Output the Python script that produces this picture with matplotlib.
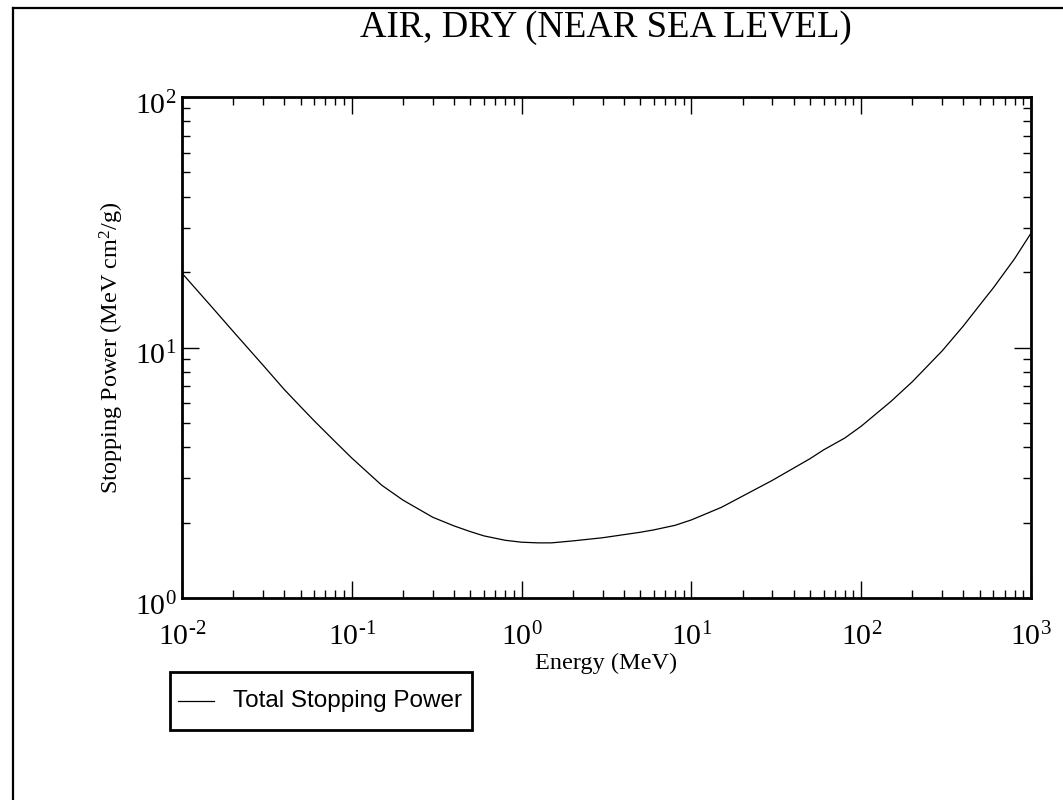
#!/usr/bin/env python3
"""
Total stopping power of electrons in dry air, log-log plot.
"""
import matplotlib
matplotlib.use("Agg")
import matplotlib.pyplot as plt
from matplotlib.lines import Line2D
from matplotlib.patches import Rectangle
from matplotlib.transforms import ScaledTranslation
from matplotlib.ticker import LogLocator, NullFormatter, FuncFormatter
import math

# Data
energy_mev = [0.01, 0.015, 0.02, 0.03, 0.04, 0.05, 0.06, 0.08, 0.1, 0.15,
              0.2, 0.3, 0.4, 0.5, 0.6, 0.8, 1.0, 1.25, 1.5, 2.0,
              3.0, 4.0, 5.0, 6.0, 8.0, 10.0, 15.0, 20.0, 30.0, 40.0,
              50.0, 60.0, 80.0, 100.0, 150.0, 200.0, 300.0, 400.0, 500.0, 600.0,
              800.0, 1000.0]
stopping_power = [19.8, 14.5, 11.6, 8.5, 6.8, 5.8, 5.1, 4.2, 3.62, 2.82,
                  2.46, 2.10, 1.94, 1.84, 1.77, 1.70, 1.67, 1.66, 1.66, 1.69,
                  1.74, 1.79, 1.83, 1.87, 1.95, 2.05, 2.30, 2.55, 2.95, 3.30,
                  3.60, 3.90, 4.35, 4.85, 6.1, 7.3, 9.7, 12.2, 14.8, 17.3,
                  22.6, 28.6]

series_label = "Total Stopping Power"
title = "AIR, DRY (NEAR SEA LEVEL)"
x_label = "Energy (MeV)"
y_label = r"Stopping Power (MeV cm$^2$/g)"

W, H = 1063, 800

plt.rcParams["font.family"] = ["Liberation Serif", "DejaVu Serif"]
plt.rcParams["mathtext.fontset"] = "custom"
plt.rcParams["mathtext.rm"] = "Liberation Serif"
plt.rcParams["mathtext.it"] = "Liberation Serif:italic"
plt.rcParams["mathtext.bf"] = "Liberation Serif:bold"


def pow10_label(v, pos):
    # plain hyphen for the exponent sign, like the original
    e = int(round(math.log10(v)))
    if e < 0:
        return r"$10^{\text{-}%d}$" % (-e)
    return r"$10^{%d}$" % e


fig = plt.figure(figsize=(W / 100, H / 100), dpi=100)
ax = fig.add_axes([182 / W, 1 - 598 / H, (1031 - 182) / W, (598 - 97) / H])

line, = ax.plot(energy_mev, stopping_power, color="black", lw=0.9,
                label=series_label)

ax.set_xscale("log")
ax.set_yscale("log")
ax.set_xlim(1e-2, 1e3)
ax.set_ylim(1e0, 1e2)

ax.xaxis.set_major_locator(LogLocator(base=10, numticks=10))
ax.xaxis.set_minor_locator(LogLocator(base=10, subs=range(2, 10), numticks=20))
ax.yaxis.set_major_locator(LogLocator(base=10, numticks=10))
ax.yaxis.set_minor_locator(LogLocator(base=10, subs=range(2, 10), numticks=20))
ax.xaxis.set_major_formatter(FuncFormatter(pow10_label))
ax.yaxis.set_major_formatter(FuncFormatter(pow10_label))
ax.xaxis.set_minor_formatter(NullFormatter())
ax.yaxis.set_minor_formatter(NullFormatter())

for s in ax.spines.values():
    s.set_linewidth(2.0)

ax.tick_params(which="both", direction="in", top=True, right=True,
               width=1.0, colors="black")
ax.tick_params(which="major", length=12, labelsize=21.5)
ax.tick_params(which="minor", length=6)
ax.tick_params(axis="x", which="major", pad=18)
ax.tick_params(axis="y", which="major", pad=4)

ax.set_xlabel(x_label, fontsize=17.5, labelpad=1)
ax.set_ylabel(y_label, fontsize=17.5, labelpad=6)

# y tick labels sit a little below their ticks in the original
drop = ScaledTranslation(0, -6 / 100, fig.dpi_scale_trans)
for tick in ax.yaxis.get_major_ticks():
    tick.label1.set_transform(tick.label1.get_transform() + drop)

fig.text(606 / W, 1 - 37 / H, title, ha="center", va="baseline", fontsize=26.5)

# legend box below the plot, at lower left
fig.add_artist(Rectangle((170 / W, 1 - 730 / H), (472 - 170) / W, (730 - 672) / H,
                         transform=fig.transFigure, fill=False,
                         edgecolor="black", lw=2.0))
fig.add_artist(Line2D([178 / W, 214 / W], [1 - 701 / H, 1 - 701 / H],
                      color=line.get_color(), lw=line.get_linewidth()))
fig.text(233 / W, 1 - 701 / H, series_label, ha="left", va="center",
         family=["Liberation Sans", "DejaVu Sans"], fontsize=17.5)

# outer page frame (left and top edges)
fig.add_artist(Line2D([13 / W, 13 / W], [0, 1 - 8 / H], color="black", lw=1.6))
fig.add_artist(Line2D([13 / W, 1], [1 - 8 / H, 1 - 8 / H], color="black", lw=1.6))

fig.savefig("out.png", dpi=100)
